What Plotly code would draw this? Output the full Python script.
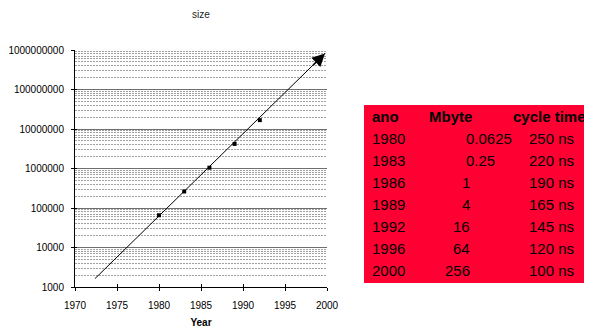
import math
import plotly.graph_objects as go

# ---- data ----
marker_years = [1980, 1983, 1986, 1989, 1992]
marker_sizes = [65536, 262144, 1048576, 4194304, 16777216]

trend_years = [1972.38, 1999.76]
trend_values = [1630, 8.2e8]

table_header = ["ano", "Mbyte", "cycle time"]
ano = [1980, 1983, 1986, 1989, 1992, 1996, 2000]
mbyte = ["0.0625", "0.25", "1", "4", "16", "64", "256"]
cycle_ns = [250, 220, 190, 165, 145, 120, 100]

x_ticks = [1970, 1975, 1980, 1985, 1990, 1995, 2000]
y_tick_vals = [1000, 10000, 100000, 1000000, 10000000, 100000000, 1000000000]
y_tick_text = ["1000", "10000", "100000", "1000000", "10000000", "100000000", "1000000000"]

# ---- layout geometry (page has an 8px body margin) ----
OFF = 8
WIDTH, HEIGHT = 592 - OFF, 335 - OFF
L, T = 75 - OFF, 50 - OFF
R = 0
B = HEIGHT - (287 - OFF)
PW = WIDTH - L - R
PH = HEIGHT - T - B
FONT = "Liberation Sans, Arial, Helvetica, sans-serif"


def px(x):
    return (x - OFF - L) / PW


def py(y):
    return (HEIGHT - B - (y - OFF)) / PH


fig = go.Figure()

# trend arrow line
fig.add_trace(go.Scatter(
    x=trend_years, y=trend_values, mode="lines",
    line=dict(color="black", width=1), hoverinfo="skip", showlegend=False,
))
fig.add_annotation(
    x=trend_years[1], y=math.log10(trend_values[1]),
    ax=trend_years[1] - 1.6, ay=math.log10(trend_values[1]) - 0.333,
    xref="x", yref="y", axref="x", ayref="y",
    text="", showarrow=True, arrowhead=2, arrowsize=1.7, arrowwidth=1.5,
    arrowcolor="black", standoff=0,
)

# data markers
fig.add_trace(go.Scatter(
    x=marker_years, y=marker_sizes, mode="markers",
    marker=dict(symbol="square", size=4, color="black"),
    showlegend=False,
))

# overlay axes for crossing ticks
fig.add_trace(go.Scatter(x=[None], y=[None], xaxis="x2", yaxis="y2",
                         showlegend=False, hoverinfo="skip"))

axis_x_domain = [0, (327 - 75) / PW]

fig.update_layout(
    width=WIDTH, height=HEIGHT,
    margin=dict(l=L, r=R, t=T, b=B, autoexpand=False),
    paper_bgcolor="white", plot_bgcolor="white",
    font=dict(family=FONT, size=10, color="black"),
    xaxis=dict(
        domain=axis_x_domain, range=[1970, 2000], automargin=False,
        tickvals=x_ticks, ticktext=[str(v) for v in x_ticks],
        ticks="outside", ticklen=3, tickcolor="black", tickwidth=1,
        showline=True, linecolor="black", linewidth=1,
        showgrid=False, zeroline=False,
        tickfont=dict(size=10, family=FONT),
        title=dict(text="<b>Year</b>", font=dict(size=10, family=FONT), standoff=8),
        ticklabelstandoff=6,
    ),
    yaxis=dict(
        type="log", range=[3, 9], automargin=False,
        tickvals=y_tick_vals, ticktext=y_tick_text,
        ticks="outside", ticklen=3, tickcolor="black", tickwidth=1,
        showline=True, linecolor="black", linewidth=1,
        showgrid=True, gridcolor="#6e6e6e", gridwidth=1.3,
        zeroline=False,
        tickfont=dict(size=10, family=FONT),
        ticklabelstandoff=5,
        minor=dict(dtick="D1", showgrid=True, gridcolor="#a0a0a0",
                   griddash="2px,1px", gridwidth=1, ticks=""),
    ),
    xaxis2=dict(
        domain=axis_x_domain, range=[1970, 2000], overlaying="x", anchor="y",
        automargin=False,
        tickvals=x_ticks, showticklabels=False, ticks="inside", ticklen=3,
        tickcolor="black", showgrid=False, zeroline=False, showline=False,
    ),
    yaxis2=dict(
        type="log", range=[3, 9], overlaying="y", anchor="x", automargin=False,
        tickvals=y_tick_vals, showticklabels=False, ticks="inside", ticklen=2,
        tickcolor="black", showgrid=False, zeroline=False, showline=False,
    ),
    showlegend=False,
)

# chart title
fig.add_annotation(text="size", x=px(201), y=py(14), xref="paper", yref="paper",
                   showarrow=False, xanchor="center", yanchor="middle",
                   font=dict(size=10, family=FONT, color="#222222"))

# table background
fig.add_shape(type="rect", xref="paper", yref="paper",
              x0=px(364), x1=px(592), y0=py(283), y1=py(105),
              fillcolor="#FF0033", line=dict(width=0), layer="below")

TF = dict(size=15, family=FONT, color="black")
header_y = 116
fig.add_annotation(text="<b>%s</b>" % table_header[0], x=px(370), y=py(header_y),
                   xref="paper", yref="paper", showarrow=False,
                   xanchor="left", yanchor="middle", font=TF)
fig.add_annotation(text="<b>%s</b>" % table_header[1], x=px(427), y=py(header_y),
                   xref="paper", yref="paper", showarrow=False,
                   xanchor="left", yanchor="middle", font=TF)
fig.add_annotation(text="<b>%s</b>" % table_header[2], x=px(588), y=py(header_y),
                   xref="paper", yref="paper", showarrow=False,
                   xanchor="right", yanchor="middle", font=TF)

for i, (a, m, c) in enumerate(zip(ano, mbyte, cycle_ns)):
    yy = 138.3 + 22 * i
    fig.add_annotation(text=str(a), x=px(370), y=py(yy), xref="paper", yref="paper",
                       showarrow=False, xanchor="left", yanchor="middle", font=TF)
    if "." in m:
        fig.add_annotation(text=m, x=px(463.5), y=py(yy), xref="paper", yref="paper",
                           showarrow=False, xanchor="left", yanchor="middle", font=TF)
    else:
        fig.add_annotation(text=m, x=px(472), y=py(yy), xref="paper", yref="paper",
                           showarrow=False, xanchor="right", yanchor="middle", font=TF)
    fig.add_annotation(text="%d ns" % c, x=px(576), y=py(yy), xref="paper", yref="paper",
                       showarrow=False, xanchor="right", yanchor="middle", font=TF)

fig.write_html("out.html")
